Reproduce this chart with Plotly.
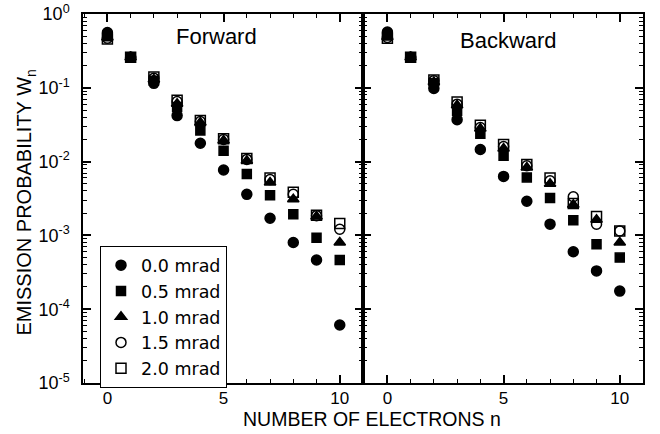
import plotly.graph_objects as go

n = [0, 1, 2, 3, 4, 5, 6, 7, 8, 9, 10]
labels = ["0.0 mrad", "0.5 mrad", "1.0 mrad", "1.5 mrad", "2.0 mrad"]

fwd_00 = [0.56, 0.26, 0.115, 0.042, 0.0177, 0.0077, 0.0036, 0.00171, 0.0008, 0.000464, 6.1e-5]
fwd_05 = [0.50, 0.26, 0.125, 0.055, 0.0264, 0.014, 0.0068, 0.0035, 0.00194, 0.00093, 0.000464]
fwd_10 = [0.48, 0.26, 0.13, 0.061, 0.034, 0.0193, 0.0103, 0.0052, 0.0031, 0.0018, 0.0008]
fwd_15 = [0.47, 0.26, 0.135, 0.065, 0.035, 0.020, 0.0107, 0.0057, 0.0036, 0.00185, 0.00121]
fwd_20 = [0.46, 0.26, 0.14, 0.0676, 0.036, 0.0204, 0.011, 0.006, 0.00383, 0.00188, 0.00145]

bwd_00 = [0.57, 0.26, 0.098, 0.037, 0.0146, 0.0063, 0.0029, 0.00142, 0.0006, 0.00033, 0.000176]
bwd_05 = [0.51, 0.26, 0.115, 0.049, 0.0238, 0.012, 0.0061, 0.0032, 0.00161, 0.00076, 0.0005]
bwd_10 = [0.49, 0.26, 0.12, 0.058, 0.028, 0.015, 0.0083, 0.005, 0.0026, 0.00163, 0.0008]
bwd_15 = [0.48, 0.26, 0.125, 0.060, 0.029, 0.016, 0.0088, 0.0055, 0.00334, 0.00142, 0.00115]
bwd_20 = [0.47, 0.26, 0.128, 0.064, 0.031, 0.017, 0.0091, 0.006, 0.0027, 0.0018, 0.00115]

y_tick_vals = [1, 0.1, 0.01, 0.001, 1e-4, 1e-5]
y_tick_text = ["10<sup>0</sup>", "10<sup>-1</sup>", "10<sup>-2</sup>",
               "10<sup>-3</sup>", "10<sup>-4</sup>", "10<sup>-5</sup>"]
x_tick_vals = [0, 5, 10]

symbols = ["circle", "square", "triangle-up", "circle-open", "square-open"]
sizes = [10, 9, 10, 10, 10]

fwd = [fwd_00, fwd_05, fwd_10, fwd_15, fwd_20]
bwd = [bwd_00, bwd_05, bwd_10, bwd_15, bwd_20]

fig = go.Figure()
for i in range(5):
    mk = dict(symbol=symbols[i], size=sizes[i], color="black",
              line=dict(color="black", width=1.5))
    fig.add_trace(go.Scatter(x=n, y=fwd[i], mode="markers", marker=mk,
                             name=labels[i], xaxis="x", yaxis="y", showlegend=True))
for i in range(5):
    mk = dict(symbol=symbols[i], size=sizes[i], color="black",
              line=dict(color="black", width=1.5))
    fig.add_trace(go.Scatter(x=n, y=bwd[i], mode="markers", marker=mk,
                             name=labels[i], xaxis="x2", yaxis="y2", showlegend=False))

minor_y = [k * 10.0 ** e for e in range(-5, 0) for k in range(2, 10)]

xcommon = dict(range=[-1.05, 11], tickvals=x_tick_vals, ticks="inside", ticklen=8,
               tickwidth=1.5, tickcolor="black", showline=True, linecolor="black",
               linewidth=1.5, mirror="allticks", showgrid=False, zeroline=False,
               automargin=False, ticklabelstandoff=-1,
               tickfont=dict(family="Liberation Sans, Arial, sans-serif", size=17, color="black"),
               minor=dict(dtick=1, tick0=0, ticks="inside", ticklen=4, tickwidth=1.2,
                          tickcolor="black", showgrid=False))
ycommon = dict(type="log", range=[-5, 0], tickvals=y_tick_vals, ticks="inside",
               ticklen=8, tickwidth=1.5, tickcolor="black", showline=True,
               linecolor="black", linewidth=1.5, mirror="allticks", showgrid=False,
               zeroline=False, automargin=False,
               minor=dict(tickmode="array", tickvals=minor_y, ticks="inside", ticklen=4,
                          tickwidth=1.2, tickcolor="black", showgrid=False))

fig.update_layout(
    width=660, height=434,
    margin=dict(l=83, r=17, t=14, b=51, autoexpand=False),
    paper_bgcolor="white", plot_bgcolor="white",
    font=dict(family="Liberation Sans, Arial, sans-serif", color="black"),
    xaxis=dict(domain=[0, 0.5], anchor="y", **xcommon),
    xaxis2=dict(domain=[0.5, 1], anchor="y2", **xcommon),
    yaxis=dict(domain=[0, 1], anchor="x", ticktext=y_tick_text, showticklabels=True,
               ticklabelstandoff=8,
               tickfont=dict(family="Liberation Sans, Arial, sans-serif", size=18, color="black"),
               **ycommon),
    yaxis2=dict(domain=[0, 1], anchor="x2", showticklabels=False, **ycommon),
    legend=dict(x=0.03, y=0.371, xanchor="left", yanchor="top",
                bordercolor="black", borderwidth=1.2, bgcolor="white",
                font=dict(family="DejaVu Sans, sans-serif", size=17.5, color="black"),
                itemwidth=30, tracegroupgap=0),
    annotations=[
        dict(text="Forward", xref="paper", yref="paper", x=0.2388, y=0.9385,
             xanchor="center", yanchor="middle", showarrow=False,
             font=dict(size=22, family="Liberation Sans, Arial, sans-serif")),
        dict(text="Backward", xref="paper", yref="paper", x=0.759, y=0.9295,
             xanchor="center", yanchor="middle", showarrow=False,
             font=dict(size=22, family="Liberation Sans, Arial, sans-serif")),
        dict(text="EMISSION PROBABILITY W<sub>n</sub>", xref="paper", yref="paper",
             x=-0.1018, y=0.489, xanchor="center", yanchor="middle", textangle=-90,
             showarrow=False, font=dict(size=20, family="Liberation Sans, Arial, sans-serif")),
        dict(text="NUMBER OF ELECTRONS n", xref="paper", yref="paper",
             x=0.516, y=-0.098, xanchor="center", yanchor="middle",
             showarrow=False, font=dict(size=19.5, family="Liberation Sans, Arial, sans-serif")),
    ],
)

fig.write_html("out.html", config={"displayModeBar": False},
               post_script="document.body.style.margin='0px';document.body.style.overflow='hidden';")
